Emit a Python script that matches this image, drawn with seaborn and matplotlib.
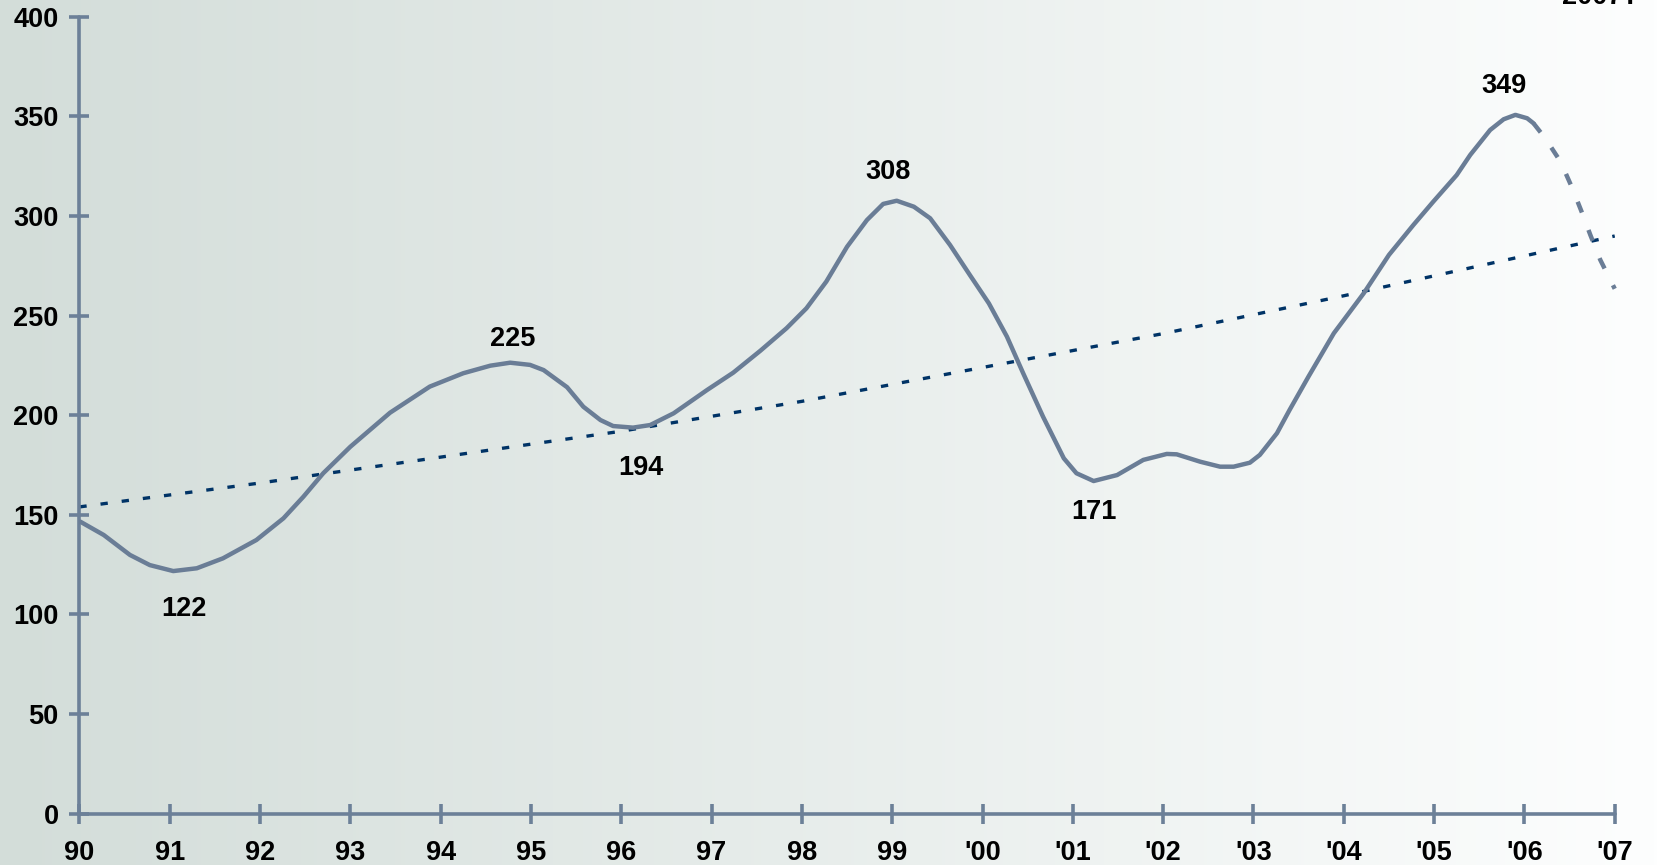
import numpy as np
import pandas as pd
import matplotlib
matplotlib.use('Agg')
import matplotlib.pyplot as plt
import seaborn as sns

# values (decimal year, index value)
years = [1990.01, 1990.27, 1990.56, 1990.78, 1991.04, 1991.30, 1991.59, 1991.96,
         1992.26, 1992.48, 1992.70, 1993.00, 1993.44, 1993.88, 1994.25, 1994.55,
         1994.77, 1994.99, 1995.14, 1995.40, 1995.58, 1995.77, 1995.91, 1996.13,
         1996.32, 1996.58, 1996.95, 1997.24, 1997.54, 1997.83, 1998.05, 1998.27,
         1998.50, 1998.72, 1998.90, 1999.05, 1999.24, 1999.42, 1999.64, 1999.86,
         2000.07, 2000.27, 2000.45, 2000.67, 2000.90, 2001.04, 2001.23, 2001.49,
         2001.78, 2002.04, 2002.15, 2002.41, 2002.63, 2002.78, 2002.96, 2003.07,
         2003.26, 2003.40, 2003.61, 2003.89, 2004.22, 2004.50, 2004.77,
         2004.99, 2005.25, 2005.40, 2005.62, 2005.77, 2005.90, 2006.03, 2006.10]
values = [146.6, 139.9, 129.9, 124.8, 121.8, 123.2, 128.2, 137.4,
          148.3, 159.1, 170.9, 184.2, 201.3, 214.4, 221.1, 224.9,
          226.4, 225.3, 222.7, 214.1, 204.3, 197.6, 194.6, 193.8,
          195.1, 201.0, 212.7, 221.4, 232.4, 243.7, 253.7, 267.1,
          284.6, 298.0, 306.1, 307.7, 304.7, 298.9, 285.5, 270.4,
          256.2, 239.5, 221.1, 199.3, 178.4, 170.9, 167.0, 170.0,
          177.6, 180.6, 180.4, 176.7, 174.2, 174.2, 176.2, 180.1,
          191.0, 202.7, 219.5, 241.2, 261.2, 280.5, 295.5,
          307.2, 320.6, 330.7, 343.2, 348.6, 350.8, 349.1, 346.6]

# projected part (dashed)
proj_years = [2006.10, 2006.23, 2006.40, 2006.53, 2006.64, 2006.73, 2006.84, 2007.0]
proj_values = [346.6, 339.1, 327.3, 314.0, 301.4, 290.5, 278.0, 263.5]

# trend line (slightly curved), read at a few years
trend_years = [1990, 1992, 1994, 1996, 1998, 2000, 2002, 2004, 2006, 2007]
trend_values = [154, 166, 179, 192, 207, 224, 241, 260, 280, 290]

# labelled turning points
peak_years = [1991.04, 1994.77, 1996.13, 1999.05, 2001.23, 2005.90]
peak_values = [121.8, 226.4, 193.8, 307.7, 167.0, 350.8]
peak_labels = ['122', '225', '194', '308', '171', '349']
# label offsets from the turning point, in points
label_offsets = [(7.5, -27), (1.5, 17), (6, -29), (-6, 21), (0, -22), (-8.5, 21)]

tick_years = list(range(1990, 2008))
tick_labels = ['90', '91', '92', '93', '94', '95', '96', '97', '98', '99',
               "'00", "'01", "'02", "'03", "'04", "'05", "'06", "'07"]

line_col = '#6a7d96'
axis_col = '#6c8098'
trend_col = '#003366'

sns.set_theme(style='white')
plt.rcParams['font.family'] = ['Liberation Sans', 'DejaVu Sans']
plt.rcParams['font.weight'] = 'bold'

fig = plt.figure(figsize=(16.57, 8.65), dpi=100)

# horizontal grey-green to white gradient behind everything
bg = fig.add_axes([0, 0, 1, 1], zorder=-10)
c0 = np.array([211, 221, 217]) / 255
c1 = np.array([253, 254, 254]) / 255
t = np.linspace(0, 1, 512)[None, :, None]
grad = c0 + (c1 - c0) * t
bg.imshow(grad, aspect='auto', extent=[0, 1, 0, 1])
bg.set_axis_off()

ax = fig.add_axes([0.0479, 0.0593, 0.9266, 0.9212])
ax.patch.set_alpha(0)

df = pd.DataFrame({'year': years, 'value': values})
sns.lineplot(data=df, x='year', y='value', ax=ax, color=line_col, lw=3.2,
             sort=False, zorder=3)
pj = pd.DataFrame({'year': proj_years, 'value': proj_values})
sns.lineplot(data=pj, x='year', y='value', ax=ax, color=line_col, lw=3.2,
             sort=False, zorder=3, linestyle=(0, (2.6, 4.2)), clip_on=False)
tr = pd.DataFrame({'year': trend_years, 'value': trend_values})
sns.lineplot(data=tr, x='year', y='value', ax=ax, color=trend_col, lw=2.4,
             sort=False, zorder=2, linestyle=(0, (2.2, 4.2)))

for yr, v, lab, off in zip(peak_years, peak_values, peak_labels, label_offsets):
    ax.annotate(lab, (yr, v), xytext=off, textcoords='offset points',
                ha='center', va='center', fontsize=19.5, fontweight='bold',
                color='black')

ax.set_xlim(1990, 2007)
ax.set_ylim(0, 400)
ax.set_xticks(tick_years)
ax.set_xticklabels(tick_labels)
ax.set_yticks(range(0, 401, 50))
ax.set_xlabel('')
ax.set_ylabel('')
for s in ['top', 'right']:
    ax.spines[s].set_visible(False)
for s in ['left', 'bottom']:
    ax.spines[s].set_color(axis_col)
    ax.spines[s].set_linewidth(2.6)
    ax.spines[s].set_capstyle('round')
ax.tick_params(axis='both', bottom=True, left=True, direction='inout',
               length=14, width=2.6, color=axis_col, labelsize=19.5,
               labelcolor='black')
ax.tick_params(axis='x', pad=12)
ax.tick_params(axis='y', pad=8)
for lbl in ax.get_xticklabels() + ax.get_yticklabels():
    lbl.set_fontweight('bold')

# heading text mostly outside the canvas at top right
fig.text(0.966, 1 - 4.5 / 865, '2007?', ha='center', va='baseline',
         fontsize=19.5, fontweight='bold', color='black')

fig.savefig('out.png', dpi=100)
